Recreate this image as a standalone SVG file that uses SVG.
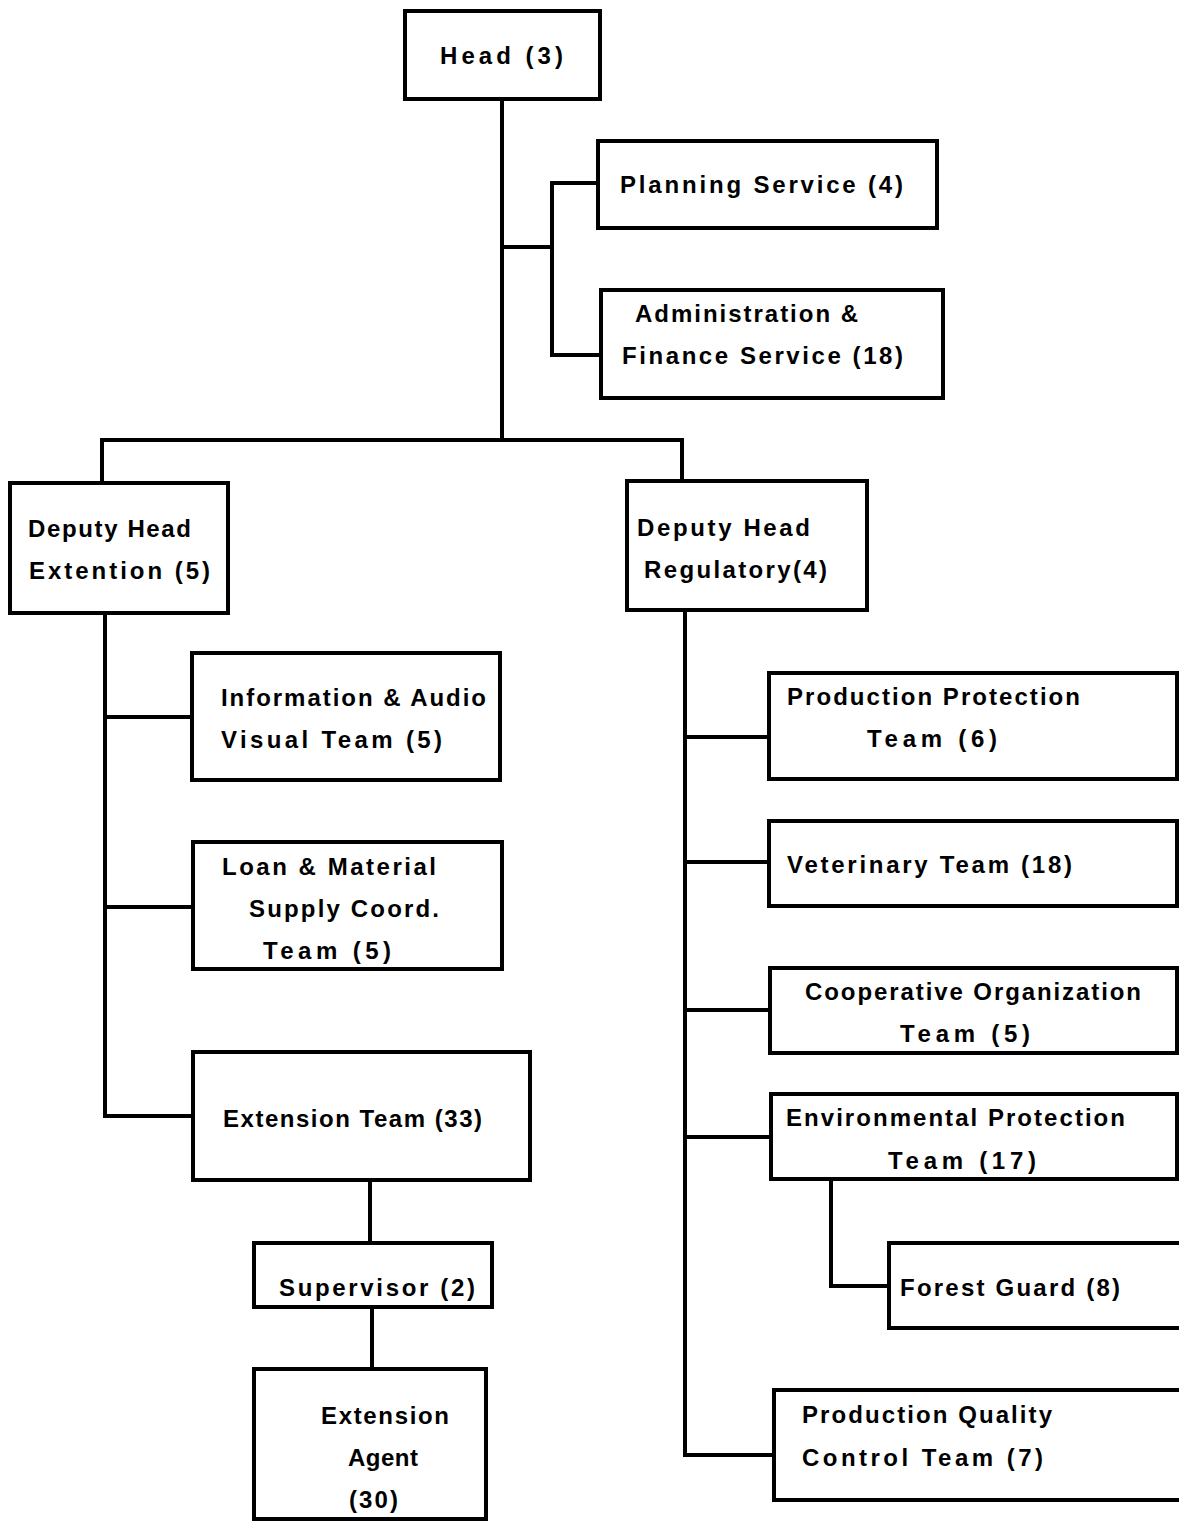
<svg xmlns="http://www.w3.org/2000/svg" width="1179" height="1522" viewBox="0 0 1179 1522">
<style>
.box{fill:#fff;stroke:#000;stroke-width:4}
.c{fill:none;stroke:#000;stroke-width:4;stroke-linecap:square;stroke-linejoin:miter}
text{font-family:"Liberation Sans",Arial,sans-serif;font-size:24px;font-weight:bold;fill:#000}
</style>
<rect width="1179" height="1522" fill="#fff"/>
<g id="connectors">
<path class="c" d="M502,99 V440"/>
<path class="c" d="M502,247 H552"/>
<path class="c" d="M598,183 H552 V355 H602"/>
<path class="c" d="M102,483 V440 H682 V481"/>
<path class="c" d="M105,613 V1116 H193"/>
<path class="c" d="M105,717 H192"/>
<path class="c" d="M105,907 H193"/>
<path class="c" d="M370,1180 V1243"/>
<path class="c" d="M372,1307 V1369"/>
<path class="c" d="M685,610 V1455 H774"/>
<path class="c" d="M685,737 H769"/>
<path class="c" d="M685,862 H769"/>
<path class="c" d="M685,1010 H770"/>
<path class="c" d="M685,1137 H771"/>
<path class="c" d="M831,1179 V1286 H889"/>
</g>
<g id="head"><rect class="box" x="405" y="11" width="195" height="88"/><text x="440" y="64" textLength="123" lengthAdjust="spacing">Head (3)</text></g>
<g id="planning"><rect class="box" x="598" y="141" width="339" height="87"/><text x="620" y="193" textLength="283" lengthAdjust="spacing">Planning Service (4)</text></g>
<g id="admin"><rect class="box" x="601" y="290" width="342" height="108"/><text x="635" y="322" textLength="223" lengthAdjust="spacing">Administration &amp;</text><text x="622" y="364" textLength="281" lengthAdjust="spacing">Finance Service (18)</text></g>
<g id="dh-ext"><rect class="box" x="10" y="483" width="218" height="130"/><text x="28" y="537" textLength="163" lengthAdjust="spacing">Deputy Head</text><text x="29" y="579" textLength="181" lengthAdjust="spacing">Extention (5)</text></g>
<g id="dh-reg"><rect class="box" x="627" y="481" width="240" height="129"/><text x="637" y="536" textLength="173" lengthAdjust="spacing">Deputy Head</text><text x="644" y="578" textLength="183" lengthAdjust="spacing">Regulatory(4)</text></g>
<g id="info"><rect class="box" x="192" y="653" width="308" height="127"/><text x="221" y="706" textLength="265" lengthAdjust="spacing">Information &amp; Audio</text><text x="221" y="748" textLength="221" lengthAdjust="spacing">Visual Team (5)</text></g>
<g id="loan"><rect class="box" x="193" y="842" width="309" height="127"/><text x="222" y="875" textLength="214" lengthAdjust="spacing">Loan &amp; Material</text><text x="249" y="917" textLength="190" lengthAdjust="spacing">Supply Coord.</text><text x="263" y="959" textLength="128" lengthAdjust="spacing">Team (5)</text></g>
<g id="ext-team"><rect class="box" x="193" y="1052" width="337" height="128"/><text x="223" y="1127" textLength="259" lengthAdjust="spacing">Extension Team (33)</text></g>
<g id="supervisor"><rect class="box" x="254" y="1243" width="238" height="64"/><text x="279" y="1296" textLength="196" lengthAdjust="spacing">Supervisor (2)</text></g>
<g id="agent"><rect class="box" x="254" y="1369" width="232" height="150"/><text x="321" y="1424" textLength="128" lengthAdjust="spacing">Extension</text><text x="348" y="1466" textLength="70" lengthAdjust="spacing">Agent</text><text x="349" y="1508" textLength="49" lengthAdjust="spacing">(30)</text></g>
<g id="prod-prot"><rect class="box" x="769" y="673" width="408" height="106"/><text x="787" y="705" textLength="293" lengthAdjust="spacing">Production Protection</text><text x="867" y="747" textLength="130" lengthAdjust="spacing">Team (6)</text></g>
<g id="vet"><rect class="box" x="769" y="821" width="408" height="85"/><text x="787" y="873" textLength="285" lengthAdjust="spacing">Veterinary Team (18)</text></g>
<g id="coop"><rect class="box" x="770" y="968" width="407" height="85"/><text x="805" y="1000" textLength="336" lengthAdjust="spacing">Cooperative Organization</text><text x="900" y="1042" textLength="130" lengthAdjust="spacing">Team (5)</text></g>
<g id="env"><rect class="box" x="771" y="1094" width="406" height="85"/><text x="786" y="1126" textLength="339" lengthAdjust="spacing">Environmental Protection</text><text x="888" y="1169" textLength="148" lengthAdjust="spacing">Team (17)</text></g>
<g id="forest"><rect class="box" x="889" y="1243" width="300" height="85"/><text x="900" y="1296" textLength="220" lengthAdjust="spacing">Forest Guard (8)</text></g>
<g id="pqc"><rect class="box" x="774" y="1390" width="415" height="110"/><text x="802" y="1423" textLength="250" lengthAdjust="spacing">Production Quality</text><text x="802" y="1466" textLength="241" lengthAdjust="spacing">Control Team (7)</text></g>
</svg>
